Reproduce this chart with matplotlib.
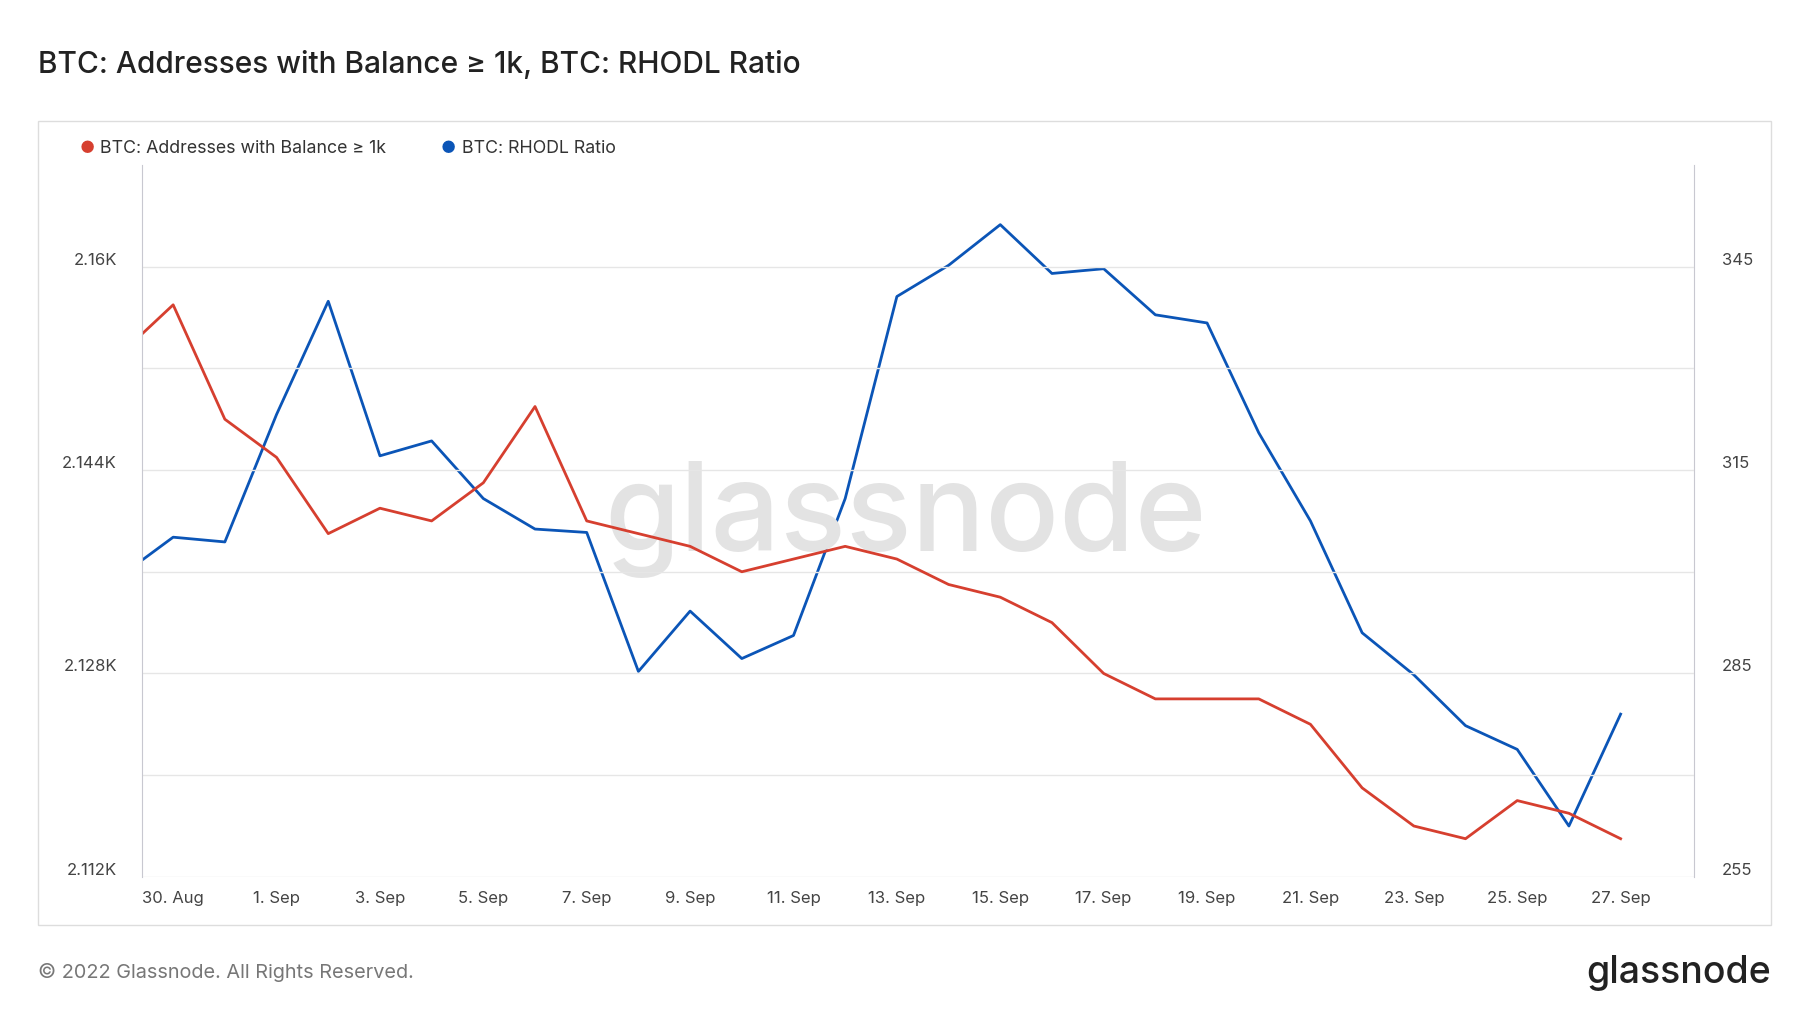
import matplotlib
matplotlib.use("Agg")
import matplotlib.pyplot as plt
import matplotlib.transforms as mtrans
import datetime as dt
from matplotlib.patches import Rectangle

plt.rcParams["font.family"] = "Inter"

start = dt.datetime(2022, 8, 29, 9, 30)
dates = [start] + [dt.datetime(2022, 8, 30) + dt.timedelta(days=i) for i in range(29)]
addresses = [2154.7, 2157, 2148, 2145, 2139, 2141, 2140, 2143, 2149, 2140, 2139, 2138, 2136, 2137,
             2138, 2137, 2135, 2134, 2132, 2128, 2126, 2126, 2126, 2124, 2119, 2116, 2115, 2118, 2117, 2115]
rhodl = [301.7, 305.1, 304.4, 323.2, 339.9, 317.1, 319.3, 310.8, 306.3, 305.8, 285.3, 294.2, 287.2, 290.6,
         310.8, 340.6, 345.2, 351.2, 344.0, 344.7, 337.9, 336.7, 320.5, 307.5, 291.0, 284.8, 277.3, 273.8,
         262.5, 279.0]
left_ticks = [2112, 2120, 2128, 2136, 2144, 2152, 2160]
left_labels = ["2.112K", "", "2.128K", "", "2.144K", "", "2.16K"]
right_ticks = [255, 285, 315, 345]
x_labels = ["30. Aug"] + [f"{d}. Sep" for d in range(1, 28, 2)]

RED = "#d63f2f"
BLUE = "#0b55b7"
W, H = 1560, 878

fig = plt.figure(figsize=(18, 10.13), dpi=100)
fig.patches.append(Rectangle((33/W, 1-802/H), (1535-33)/W, (802-105)/H, transform=fig.transFigure,
                             fill=False, ec="#dddddd", lw=1))
ax = fig.add_axes([123/W, 1-760/H, (1468-123)/W, (760-143)/H])
ax2 = ax.twinx()
ax.plot(dates, addresses, color=RED, lw=2)
ax2.plot(dates, rhodl, color=BLUE, lw=2)
ax.set_ylim(2112, 2168)
ax2.set_ylim(255, 360)
ax.set_xlim(start, dt.datetime(2022, 9, 28, 10))
ax.set_yticks(left_ticks)
ax.set_yticklabels(left_labels)
ax2.set_yticks(right_ticks)
ax.grid(axis="y", color="#e6e6e6", lw=1)
ticks = [dt.datetime(2022, 8, 30)] + [dt.datetime(2022, 9, d) for d in range(1, 28, 2)]
ax.set_xticks(ticks)
ax.set_xticklabels(x_labels)
for a in (ax, ax2):
    a.tick_params(length=0, labelsize=12, colors="#444444", pad=10)
    a.spines["top"].set_visible(False)
    a.spines["bottom"].set_visible(False)
ax.spines["right"].set_visible(False)
ax.spines["left"].set_color("#c8c8d0")
ax2.spines["left"].set_visible(False)
ax2.spines["right"].set_color("#c8c8d0")
ax.tick_params(axis="y", pad=18)
ax2.tick_params(axis="y", pad=20)
off = mtrans.ScaledTranslation(0, 8/100, fig.dpi_scale_trans)
for lab in ax.get_yticklabels() + ax2.get_yticklabels():
    lab.set_transform(lab.get_transform() + off)
ax.set_zorder(ax2.get_zorder()+1); ax.patch.set_visible(False)

fig.text(785/W, 1-450/H, "glassnode", fontsize=88, color="#e3e3e3", ha="center", va="center", zorder=0, fontweight="medium")
fig.text(33/W, 1-56/H, "BTC: Addresses with Balance ≥ 1k, BTC: RHODL Ratio", fontsize=21.5, color="#222222", va="center", fontweight="medium")
fig.text(69/W, 1-129/H, "●", color=RED, fontsize=12, va="center")
fig.text(87/W, 1-129/H, "BTC: Addresses with Balance ≥ 1k", color="#333333", fontsize=12.8, va="center")
fig.text(382/W, 1-129/H, "●", color=BLUE, fontsize=12, va="center")
fig.text(400/W, 1-129/H, "BTC: RHODL Ratio", color="#333333", fontsize=12.8, va="center")
fig.text(33/W, 1-843/H, "© 2022 Glassnode. All Rights Reserved.", fontsize=14.3, color="#777777", va="center")
fig.text(1535/W, 1-843/H, "glassnode", fontsize=27, color="#222222", ha="right", va="center", fontweight="medium")
fig.savefig("out.png", dpi=100)
